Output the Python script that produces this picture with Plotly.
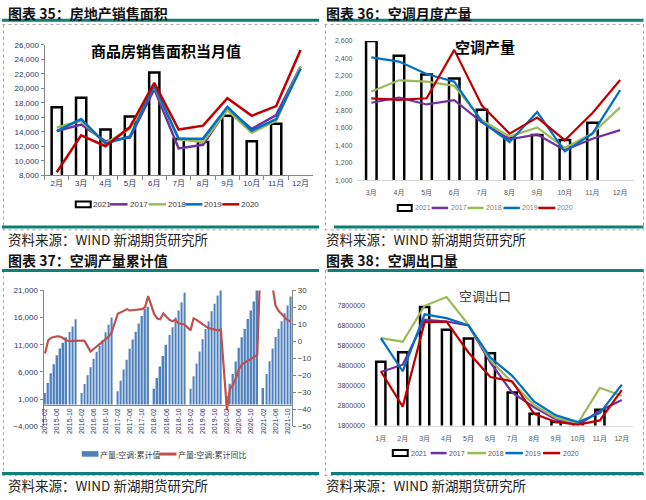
import plotly.graph_objects as go

W, H = 646, 500
def px(x): return x / W
def py(y): return 1 - y / H

# ---------------- Chart 35 data ----------------
months_35 = ["2月", "3月", "4月", "5月", "6月", "7月", "8月", "9月", "10月", "11月", "12月"]
area_2021 = [17400, 18700, 14300, 16100, 22200, 13000, 12600, 16200, 12700, 15100, None]
area_2017 = [14100, 15000, 12700, 13200, 19900, 11700, 12200, 17200, 14400, 16300, 23000]
area_2018 = [14600, 15500, 12400, 14400, 20300, 12950, 12600, 17000, 13850, 15550, 23050]
area_2019 = [14100, 15750, 12350, 13350, 20400, 13050, 13050, 17450, 14150, 15750, 22700]
area_2020 = [8400, 13500, 12000, 14650, 20750, 14300, 14850, 18650, 16200, 17550, 25300]

# ---------------- Chart 36 data ----------------
months_36 = ["3月", "4月", "5月", "6月", "7月", "8月", "9月", "10月", "11月", "12月"]
ac_2021 = [2600, 2430, 2215, 2170, 1810, 1490, 1520, 1460, 1660, None]
ac_2017 = [1890, 1950, 1870, 1920, 1665, 1470, 1525, 1345, 1475, 1575]
ac_2018 = [2020, 2148, 2133, 2084, 1690, 1500, 1606, 1370, 1538, 1836]
ac_2019 = [2412, 2363, 2220, 2133, 1670, 1437, 1783, 1331, 1535, 2035]
ac_2020 = [1941, 1922, 1941, 2498, 1858, 1535, 1719, 1459, 1772, 2152]

# ---------------- Chart 37 data ----------------
# cumulative production (Feb..Dec for 2015, Jan..Dec for 2016-2020, Jan..Nov for 2021)
cum_2015 = [2140, 3950, 5760, 7420, 9050, 10320, 11360, 12380, 13350, 14370, 15700]
cum_2016 = [None, 2140, 3800, 5400, 6850, 8450, 9700, 10800, 11900, 13300, 14700, 16000]
cum_2017 = [None, 2450, 4430, 6470, 8250, 10270, 11960, 13400, 14900, 16300, 17600, 18000]
cum_2018 = [None, 2900, 4880, 7000, 8950, 11000, 12780, 14220, 16000, 17330, 18830, 20600]
cum_2019 = [None, 2900, 5220, 7570, 9740, 12000, 13900, 15300, 17150, 18550, 20070, 21900]
cum_2020 = [None, 1600, 3830, 5600, 7930, 10450, 12400, 13890, 15760, 17300, 18950, 21500]
cum_2021 = [None, 3040, 5640, 7950, 10300, 12450, 13950, 15350, 16780, 18250, 19900]
yoy_2015 = [-7.2, 0.5, 2.2, 2.6, 3.0, 2.8, 1.5, 0.7, 0.1, 0.2, 0.5]
yoy_2016 = [None, 0.5, 0.3, -2.8, -6.0, -4.5, -3.0, -1.5, -0.3, 1.2, 2.8, 5.5]
yoy_2017 = [None, 16.3, 17.1, 18.0, 19.0, 18.2, 18.4, 18.4, 18.6, 19.0, 20.2, 26.7]
yoy_2018 = [None, 16.0, 13.5, 13.0, 16.5, 14.5, 12.8, 11.8, 12.7, 10.7, 10.5, 10.0]
yoy_2019 = [None, 6.5, 13.6, 12.7, 11.3, 10.1, 8.8, 7.8, 7.3, 6.9, 6.5, 6.9]
yoy_2020 = [None, -40.4, -28.0, -25.5, -21.5, -16.0, -13.5, -12.5, -11.5, -10.5, -9.0, -8.0]
yoy_2021 = [None, 95.0, 60.0, 42.0, 33.0, 21.3, 18.0, 16.3, 14.0, 12.5, 11.7]

# ---------------- Chart 38 data ----------------
months_38 = ["1月", "2月", "3月", "4月", "5月", "6月", "7月", "8月", "9月", "10月", "11月", "12月"]
exp_2021 = [5000000, 5470000, 7740000, 6600000, 6160000, 5420000, 3460000, 2390000, 1980000, 1950000, 2590000, None]
exp_2017 = [4480000, 4850000, 7100000, 7010000, 6820000, 4960000, 3450000, 2720000, 2100000, 1820000, 2540000, 3080000]
exp_2018 = [6180000, 6000000, 7800000, 8240000, 6850000, 5080000, 3950000, 2830000, 2180000, 1930000, 3690000, 3290000]
exp_2019 = [6180000, 4520000, 7370000, 7180000, 6820000, 5210000, 4290000, 3000000, 2310000, 1980000, 2420000, 3850000]
exp_2020 = [4520000, 2750000, 6980000, 7010000, 5460000, 4230000, 4010000, 2390000, 1980000, 1850000, 2060000, 3570000]

yoy_ticks_left = [-4000, 1000, 6000, 11000, 16000, 21000]
yoy_ticks_right = [-50, -40, -30, -20, -10, 0, 10, 20, 30]
exp_ticks = [1800000, 2800000, 3800000, 4800000, 5800000, 6800000, 7800000]
year_names = ["2021", "2017", "2018", "2019", "2020"]
legend_37 = ["产量:空调:累计值", "产量:空调:累计同比"]

# ---------------- styles ----------------
C17, C18, C19, C20 = "#7030A0", "#9BBB59", "#0070C0", "#C00000"
YEAR_COLORS = [None, C17, C18, C19, C20]
TEAL = "#0F7F7A"
FONT = "Liberation Sans, Noto Sans CJK SC, sans-serif"
CJK = "Noto Sans CJK SC, sans-serif"

fig = go.Figure()

def add_year_set(x, b21, s17, s18, s19, s20, xa, ya, bw, lw):
    fig.add_trace(go.Bar(x=x, y=b21, name=year_names[0], xaxis=xa, yaxis=ya, width=bw, showlegend=False,
                         marker=dict(color="white", line=dict(color="black", width=2.5))))
    for nm, vals, col in zip(year_names[1:], (s17, s18, s19, s20), YEAR_COLORS[1:]):
        fig.add_trace(go.Scatter(x=x, y=vals, name=nm, mode="lines", xaxis=xa, yaxis=ya, showlegend=False,
                                 line=dict(color=col, width=lw)))

add_year_set(months_35, area_2021, area_2017, area_2018, area_2019, area_2020, "x", "y", 0.42, 2.5)
add_year_set(months_36, ac_2021, ac_2017, ac_2018, ac_2019, ac_2020, "x2", "y2", 0.38, 2.2)
add_year_set(months_38, exp_2021, exp_2017, exp_2018, exp_2019, exp_2020, "x4", "y5", 0.42, 2.2)

# chart 37
cats_37, cum_all, yoy_all = [], [], []
for yr, cvals, yvals, m0 in ((2015, cum_2015, yoy_2015, 2), (2016, cum_2016, yoy_2016, 1),
                              (2017, cum_2017, yoy_2017, 1), (2018, cum_2018, yoy_2018, 1),
                              (2019, cum_2019, yoy_2019, 1), (2020, cum_2020, yoy_2020, 1),
                              (2021, cum_2021, yoy_2021, 1)):
    for i, (c, v) in enumerate(zip(cvals, yvals)):
        cats_37.append(f"{yr}-{m0 + i:02d}")
        cum_all.append(c)
        yoy_all.append(v)

fig.add_trace(go.Bar(x=cats_37, y=cum_all, name=legend_37[0], xaxis="x3", yaxis="y3", showlegend=False,
                     width=0.5, marker=dict(color="#4F81BD", line=dict(width=0))))
fig.add_trace(go.Scatter(x=cats_37, y=yoy_all, name=legend_37[1], xaxis="x3", yaxis="y4", showlegend=False,
                         mode="lines", connectgaps=True, line=dict(color="#C0504D", width=2.2)))

# ---------------- axes ----------------
grey = "#868686"
fig.update_layout(
    xaxis=dict(domain=[px(42.7), px(311.7)], anchor="y", type="category", showline=True, linecolor=grey,
               ticks="outside", tickson="boundaries", ticklen=4, tickcolor=grey, showgrid=False, tickangle=0,
               tickfont=dict(size=8, color="#2E3A66", family=FONT)),
    yaxis=dict(domain=[py(174.3), py(41.7)], anchor="x", range=[8000, 26000], dtick=2000, tickformat=",",
               showline=True, linecolor=grey, ticks="outside", ticklen=3, tickcolor=grey, showgrid=False,
               zeroline=False, tickfont=dict(size=8, color="#2E3A66", family=FONT)),
    xaxis2=dict(domain=[px(356.6), px(633.9)], anchor="y2", type="category", showline=True, tickangle=0,
                linecolor="#D9D9D9", ticks="", showgrid=False, ticklabelstandoff=6,
                tickfont=dict(size=7, color="#595959", family=FONT)),
    yaxis2=dict(domain=[py(179.3), py(37.7)], anchor="x2", range=[1000, 2600], dtick=200, tickformat=",",
                showline=False, ticks="", showgrid=False, zeroline=False, ticklabelstandoff=4,
                tickfont=dict(size=7, color="#595959", family=FONT)),
    xaxis3=dict(domain=[px(41.7), px(291)], anchor="free",
                position=py(430) + (4000 / 25000) * (py(291.7) - py(430)),
                type="category", categoryorder="array", categoryarray=cats_37,
                tickmode="array", tickvals=cats_37[::4], ticktext=cats_37[::4], tickangle=-90,
                showline=True, linecolor=grey, ticks="", showgrid=False,
                tickfont=dict(size=7, color="#2E3A66", family=FONT)),
    yaxis3=dict(domain=[py(430), py(291.7)], anchor="x3", range=[-4000, 21000], tickvals=yoy_ticks_left,
                tickformat=",", showline=True, linecolor=grey, ticks="outside", ticklen=3, tickcolor=grey,
                showgrid=False, zeroline=False, tickfont=dict(size=8, color="#2E3A66", family=FONT)),
    yaxis4=dict(overlaying="y3", side="right", anchor="x3", range=[-50, 30], tickvals=yoy_ticks_right,
                showline=True, linecolor=grey, ticks="outside", ticklen=3, tickcolor=grey,
                showgrid=False, zeroline=False, tickfont=dict(size=8, color="#404040", family=FONT)),
    xaxis4=dict(domain=[px(369), px(632.7)], anchor="y5", type="category", showline=True, tickangle=0,
                linecolor="#D9D9D9", ticks="", showgrid=False, ticklabelstandoff=6,
                tickfont=dict(size=7, color="#595959", family=FONT)),
    yaxis5=dict(domain=[py(429.3), py(289)], anchor="x4", range=[1800000, 8700000], tickvals=exp_ticks,
                tickformat="d", showline=False, ticks="", showgrid=False, zeroline=False,
                ticklabelstandoff=4, tickfont=dict(size=7, color="#5A3E36", family=FONT)),
)

# ---------------- decorations ----------------
shapes = []
annotations = []

def hline(x0, x1, y, color, width, dash="solid"):
    shapes.append(dict(type="line", xref="paper", yref="paper", x0=px(x0), x1=px(x1), y0=py(y), y1=py(y),
                       line=dict(color=color, width=width, dash=dash)))
def vline(x, y0, y1, color, width, dash="solid"):
    shapes.append(dict(type="line", xref="paper", yref="paper", x0=px(x), x1=px(x), y0=py(y0), y1=py(y1),
                       line=dict(color=color, width=width, dash=dash)))
def rect(x0, x1, y0, y1, fill, lcolor, lwidth):
    shapes.append(dict(type="rect", xref="paper", yref="paper", x0=px(x0), x1=px(x1), y0=py(y1), y1=py(y0),
                       fillcolor=fill, line=dict(color=lcolor, width=lwidth)))
def text(x, y, s, size, color="black", bold=False, anchor="left", family=CJK):
    annotations.append(dict(xref="paper", yref="paper", x=px(x), y=py(y), text=(f"<b>{s}</b>" if bold else s),
                            showarrow=False, xanchor=anchor, yanchor="middle", borderpad=0,
                            font=dict(size=size, color=color, family=family)))

DASH = "#A6A6A6"
for (l, r, top, right_edge) in ((0, 320, 0, False), (323, 646, 0, True), (0, 320, 250, False), (323, 646, 250, True)):
    hline(l + 0.5, r - 2, top + 21, DASH, 1, "dot")
    hline(l + 0.5, r - 2, top + 230, DASH, 1, "dot")
    vline(l + 1.5, top + 21, top + 230, DASH, 1, "dot")
    if right_edge:
        vline(643.5, top + 21, top + 230, DASH, 1, "dot")

hline(0, 318, 16.5, TEAL, 3)
hline(326.7, 643.5, 16.5, TEAL, 3)
hline(0, 318, 227, TEAL, 3)
hline(333, 643.5, 227, TEAL, 3)
hline(0, 318, 271.3, TEAL, 3)
hline(326.7, 643.5, 271.3, TEAL, 3)
hline(0, 318, 478, TEAL, 3)
hline(330, 643.5, 478, TEAL, 3)

# year legends (box for 2021, short lines for 2017-2020)
def year_legend(y, box, lines, text_x, size, color):
    rect(box[0], box[1], y - 3, y + 3, "white", "black", 2)
    for (x0, x1), col in zip(lines, YEAR_COLORS[1:]):
        hline(x0, x1, y, col, 2.5)
    for tx, nm in zip(text_x, year_names):
        text(tx, y, nm, size, color, False, "left", FONT)

year_legend(204, (74, 89), [(108, 126), (147, 164.5), (184, 201), (221, 238)],
            [90.5, 127.5, 165.5, 202, 239], 8, "#404040")
year_legend(207.7, (397, 411), [(431, 447.5), (467, 483), (503, 519.5), (538, 555)],
            [413, 449, 485, 521, 556], 7, "#7F7F7F")
year_legend(457.3, (392, 407), [(430, 446), (466.7, 485.5), (505, 522.5), (542.7, 560)],
            [409.5, 447, 486.5, 524, 562], 7, "#595959")
# chart 37 legend
rect(80, 96.7, 455.3, 461, "#4F81BD", "#4F81BD", 0)
text(97.5, 458.3, legend_37[0], 8, "#404040", False, "left", CJK)
hline(158, 175, 458.3, "#C0504D", 3)
text(176, 458.3, legend_37[1], 8, "#404040", False, "left", CJK)

text(5, 9.5, "图表 35：房地产销售面积", 14, "#111111", True)
text(324, 9.5, "图表 36：空调月度产量", 14, "#111111", True)
text(5, 260.5, "图表 37：空调产量累计值", 14, "#111111", True)
text(324, 260.5, "图表 38：空调出口量", 14, "#111111", True)
for (x0, y0) in ((5, 239.5), (324, 239.5), (5, 489.5), (324, 489.5)):
    text(x0, y0, "资料来源：WIND 新湖期货研究所", 13.5, "#222222")

text(165, 47.7, "商品房销售面积当月值", 15, "black", True, "center")
text(485, 43.3, "空调产量", 15, "black", True, "center")
text(485, 296.7, "空调出口", 13, "#404040", False, "center")

fig.update_layout(
    width=W, height=H, margin=dict(l=0, r=0, t=0, b=0),
    paper_bgcolor="white", plot_bgcolor="rgba(0,0,0,0)",
    shapes=shapes, annotations=annotations, showlegend=False,
)

fig.write_html("out.html", config={"displayModeBar": False},
               post_script="document.body.style.margin='0px';")
